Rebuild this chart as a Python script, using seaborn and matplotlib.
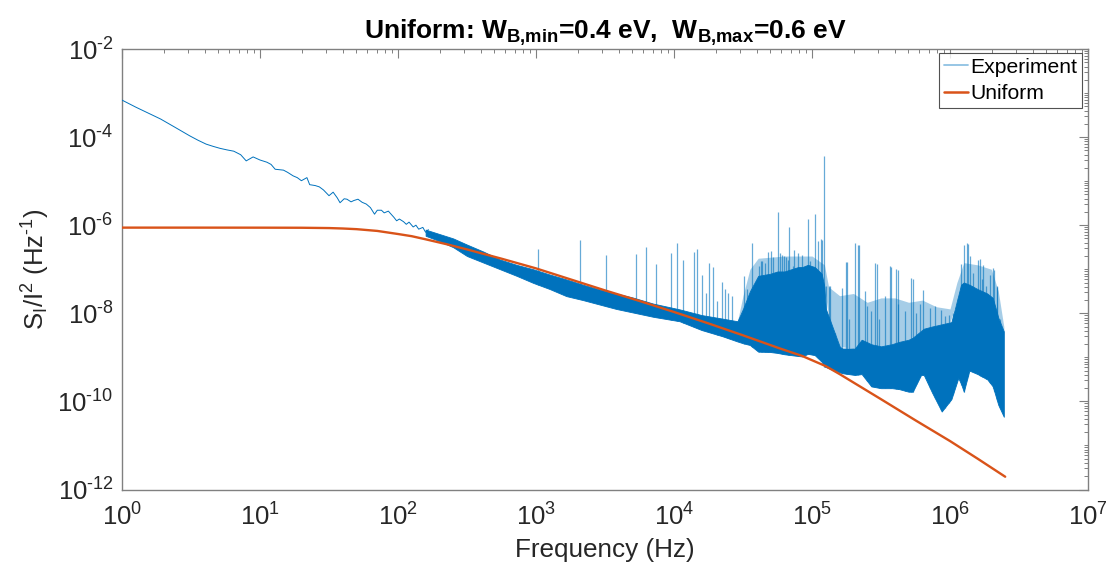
import numpy as np
import pandas as pd
import matplotlib
matplotlib.use("Agg")
import matplotlib.pyplot as plt
import seaborn as sns
from matplotlib.ticker import LogLocator, FixedLocator, FuncFormatter, NullFormatter
from matplotlib.lines import Line2D

# ---------------- data (log10 values) ----------------
# Experiment: smooth low-frequency part (log10 f, log10 S)
exp_low_log_f = [0.00, 0.10, 0.20, 0.28, 0.38, 0.49, 0.55, 0.61, 0.66, 0.71, 0.76, 0.81, 0.86,
                 0.90, 0.95, 1.00, 1.05, 1.08, 1.11, 1.14, 1.17, 1.20, 1.24, 1.27, 1.30, 1.34,
                 1.36, 1.40, 1.43, 1.46, 1.50, 1.53, 1.56, 1.58, 1.61, 1.63, 1.66, 1.68, 1.71,
                 1.74, 1.77, 1.80, 1.83, 1.85, 1.88, 1.90, 1.93, 1.95, 1.97, 1.99, 2.01, 2.04,
                 2.06, 2.08, 2.11, 2.13, 2.15, 2.18, 2.20, 2.22]
exp_low_log_s = [-3.16, -3.32, -3.47, -3.59, -3.77, -3.97, -4.07, -4.16, -4.21, -4.255, -4.29,
                 -4.32, -4.40, -4.54, -4.45, -4.52, -4.57, -4.62, -4.73, -4.74, -4.75, -4.80,
                 -4.88, -4.92, -4.99, -4.92, -5.08, -5.10, -5.13, -5.20, -5.33, -5.25, -5.38,
                 -5.49, -5.40, -5.41, -5.47, -5.44, -5.41, -5.48, -5.52, -5.60, -5.75, -5.66,
                 -5.66, -5.72, -5.68, -5.75, -5.82, -5.90, -5.86, -5.92, -5.98, -5.93, -6.04,
                 -6.00, -6.09, -6.05, -6.16, -6.10]

# Experiment: dense noisy band (log10 f, upper and lower envelope of log10 S)
band_log_f = [2.20, 2.30, 2.40, 2.50, 2.62, 2.74, 2.86, 2.98, 3.10, 3.22, 3.34, 3.46, 3.58, 3.70,
              3.85, 4.04, 4.20, 4.35, 4.46, 4.50, 4.55, 4.61, 4.70, 4.75, 4.80, 4.90, 4.93, 4.97,
              5.02, 5.07, 5.09, 5.10, 5.13, 5.20, 5.22, 5.31, 5.36, 5.43, 5.50, 5.58, 5.63, 5.70,
              5.73, 5.79, 5.81, 5.87, 5.94, 6.01, 6.06, 6.08, 6.10, 6.14, 6.20, 6.27, 6.31, 6.35,
              6.39]
band_hi_log_s = [-6.10, -6.20, -6.30, -6.44, -6.60, -6.78, -6.90, -7.00, -7.12, -7.23, -7.35,
                 -7.46, -7.55, -7.64, -7.78, -7.91, -8.04, -8.12, -8.18, -7.90, -7.50, -7.15,
                 -7.10, -7.05, -7.05, -6.95, -6.95, -6.90, -6.95, -7.10, -7.40, -7.90, -8.15,
                 -8.75, -8.80, -8.80, -8.60, -8.70, -8.75, -8.70, -8.65, -8.60, -8.55, -8.40,
                 -8.35, -8.30, -8.25, -8.20, -7.60, -7.35, -7.30, -7.35, -7.45, -7.55, -7.65,
                 -8.10, -8.41]
band_lo_log_s = [-6.24, -6.36, -6.50, -6.70, -6.85, -7.00, -7.15, -7.31, -7.45, -7.61, -7.70,
                 -7.80, -7.90, -7.98, -8.08, -8.18, -8.38, -8.52, -8.64, -8.68, -8.72, -8.87,
                 -8.88, -8.90, -8.93, -8.97, -8.98, -8.92, -8.95, -9.10, -9.21, -9.22, -9.26,
                 -9.34, -9.36, -9.40, -9.38, -9.66, -9.70, -9.70, -9.72, -9.78, -9.78, -9.40,
                 -9.40, -9.80, -10.23, -9.95, -9.47, -9.60, -9.78, -9.30, -9.38, -9.50, -9.66,
                 -10.08, -10.35]

# Experiment: upper reach of the hairy (less dense) traces above the solid band
haze_log_f = [4.46, 4.50, 4.55, 4.61, 4.80, 5.00, 5.09, 5.12, 5.20, 5.30, 5.40, 5.50, 5.60,
              5.70, 5.80, 5.90, 6.00, 6.05, 6.10, 6.20, 6.30, 6.35, 6.39]
haze_hi_log_s = [-8.18, -7.60, -7.00, -6.75, -6.70, -6.70, -6.90, -7.40, -7.60, -7.55, -7.75,
                 -7.65, -7.65, -7.75, -7.70, -7.85, -7.90, -7.30, -6.85, -6.90, -7.00, -7.50,
                 -8.30]

# Experiment: isolated spectral spikes (log10 f, log10 S at spike top)
spike_log_f = [3.015, 3.32, 3.505, 3.725, 3.80, 3.872, 3.981, 4.024, 4.067, 4.145, 4.169, 4.20,
               4.232, 4.256, 4.28, 4.31, 4.35, 4.37, 4.394, 4.418, 4.51, 4.53, 4.568, 4.616,
               4.629, 4.635, 4.658, 4.68, 4.702, 4.72, 4.75, 4.767, 4.78, 4.798, 4.81, 4.827,
               4.83, 4.859, 4.87, 4.895, 4.93, 4.97, 4.984, 5.02, 5.04, 5.062, 5.07, 5.09,
               5.105, 5.122, 5.13, 5.17, 5.221, 5.243, 5.25, 5.267, 5.315, 5.33, 5.34, 5.383,
               5.40, 5.431, 5.46, 5.47, 5.484, 5.528, 5.564, 5.57, 5.607, 5.62, 5.624, 5.673,
               5.721, 5.73, 5.757, 5.781, 5.805, 5.854, 5.890, 5.933, 5.962, 5.991, 6.023,
               6.059, 6.083, 6.10, 6.124, 6.13, 6.144, 6.168, 6.204, 6.22, 6.233, 6.24, 6.259,
               6.288, 6.313, 6.32, 6.337, 6.34, 6.361]
spike_log_s = [-6.55, -6.33, -6.68, -6.65, -6.49, -6.89, -6.62, -6.40, -6.78, -6.61, -6.53,
               -7.13, -7.53, -6.85, -6.96, -7.72, -7.30, -7.44, -7.53, -7.61, -7.16, -7.45,
               -6.40, -6.93, -6.82, -6.81, -6.85, -6.61, -6.59, -6.72, -5.70, -6.63, -6.68,
               -6.70, -6.72, -6.78, -6.04, -6.93, -6.57, -6.63, -6.68, -5.85, -6.82, -5.74,
               -6.36, -6.32, -6.34, -4.42, -7.38, -7.38, -7.39, -8.45, -7.42, -6.84, -6.83,
               -8.14, -6.40, -6.44, -6.46, -7.50, -7.84, -7.95, -6.85, -6.89, -8.14, -7.61,
               -6.93, -6.95, -7.00, -7.02, -7.80, -7.95, -7.19, -7.21, -7.99, -7.80, -7.46,
               -7.88, -7.84, -7.92, -8.07, -8.03, -7.99, -7.65, -6.89, -6.44, -6.40, -6.43,
               -6.70, -7.08, -6.78, -6.76, -7.23, -6.91, -7.38, -7.12, -6.97, -7.01, -7.38,
               -7.40, -8.14]

# Uniform model curve (log10 f, log10 S)
uni_log_f = [0.0, 0.5, 1.0, 1.3, 1.5, 1.6, 1.7, 1.85, 2.0, 2.1, 2.2, 2.35, 2.5, 2.75, 3.0, 3.25,
             3.5, 3.75, 4.0, 4.25, 4.5, 4.76, 4.93, 5.1, 5.2, 5.3, 5.4, 5.5, 5.75, 6.0, 6.2, 6.4]
uni_log_s = [-6.055, -6.055, -6.056, -6.058, -6.065, -6.075, -6.09, -6.13, -6.20, -6.25, -6.32,
             -6.43, -6.55, -6.76, -6.98, -7.23, -7.48, -7.72, -7.97, -8.23, -8.50, -8.79,
             -8.97, -9.20, -9.38, -9.57, -9.76, -9.95, -10.43, -10.90, -11.30, -11.71]

series_names = ["Experiment", "Uniform"]
x_ticks_exp = list(range(0, 8))
y_ticks_exp = [-12, -10, -8, -6, -4, -2]

# ---------------- styling ----------------
sns.set_style("white")
plt.rcParams["font.family"] = ["Liberation Sans", "DejaVu Sans"]
plt.rcParams["mathtext.fontset"] = "custom"
plt.rcParams["mathtext.rm"] = "Liberation Sans"
plt.rcParams["mathtext.it"] = "Liberation Sans:italic"
plt.rcParams["mathtext.bf"] = "Liberation Sans:bold"
plt.rcParams["mathtext.default"] = "regular"

BLUE = "#0072BD"
ORANGE = "#D95319"
AXC = "#808080"
TXT = "#262626"

fig = plt.figure(figsize=(11.18, 5.72), dpi=100)
ax = fig.add_axes([122 / 1118, (572 - 489.5) / 572, (1088 - 122) / 1118, (489.5 - 49) / 572])
ax.set_xscale("log")
ax.set_yscale("log")

p = lambda v: 10.0 ** np.asarray(v, dtype=float)

# hairy traces (light) above the dense band
haze_base = np.interp(haze_log_f, band_log_f, band_hi_log_s)
ax.fill_between(p(haze_log_f), p(haze_base), p(haze_hi_log_s), color=BLUE, lw=0, alpha=0.35,
                zorder=1.5)
# dense band
ax.fill_between(p(band_log_f), p(band_lo_log_s), p(band_hi_log_s), color=BLUE, lw=0.6,
                edgecolor=BLUE, zorder=2)
# spikes
spike_base = np.interp(spike_log_f, band_log_f, band_lo_log_s)
ax.vlines(p(spike_log_f), p(spike_base), p(spike_log_s), color=BLUE, lw=0.9, alpha=0.6, zorder=2)

# smooth low-frequency experiment trace
sns.lineplot(x=p(exp_low_log_f), y=p(exp_low_log_s), ax=ax, color=BLUE, lw=0.7, sort=False,
             estimator=None, legend=False, zorder=3)
# model
sns.lineplot(x=p(uni_log_f), y=p(uni_log_s), ax=ax, color=ORANGE, lw=1.7, sort=False,
             estimator=None, legend=False, zorder=4)

ax.set_xlim(1, 1e7)
ax.set_ylim(1e-12, 1e-2)


def pow_fmt(v, pos):
    e = int(round(np.log10(v)))
    return r"$10^{\text{%d}}$" % e


ax.xaxis.set_major_locator(FixedLocator(p(x_ticks_exp)))
ax.xaxis.set_minor_locator(LogLocator(base=10, subs=np.arange(2, 10), numticks=100))
ax.yaxis.set_major_locator(FixedLocator(p(y_ticks_exp)))
ax.yaxis.set_minor_locator(LogLocator(base=10, subs=np.arange(1, 10), numticks=100))
ax.xaxis.set_major_formatter(FuncFormatter(pow_fmt))
ax.yaxis.set_major_formatter(FuncFormatter(pow_fmt))
ax.xaxis.set_minor_formatter(NullFormatter())
ax.yaxis.set_minor_formatter(NullFormatter())

ax.tick_params(which="both", direction="in", top=True, right=True, color=AXC, labelcolor=TXT)
ax.tick_params(which="major", length=6.5, width=0.8, labelsize=18.5)
ax.tick_params(which="minor", length=3.2, width=0.7)
ax.tick_params(axis="x", which="major", pad=10)
ax.tick_params(axis="y", which="major", pad=6)
for s in ax.spines.values():
    s.set_color(AXC)
    s.set_linewidth(1.0)

ax.set_xlabel("Frequency (Hz)", fontsize=18.8, color=TXT, labelpad=5)
ax.set_ylabel(r"S$_\mathrm{I}$/I$^2$ (Hz$^{\text{-1}}$)", fontsize=18.5, color=TXT, labelpad=4)
ax.set_title(r"Uniform: W$_{\mathbf{B{,}min}}$=0.4 eV,  W$_{\mathbf{B{,}max}}$=0.6 eV",
             fontsize=19, fontweight="bold", pad=7, color="black")

handles = [Line2D([], [], color="#8FC1E3", lw=1.3), Line2D([], [], color=ORANGE, lw=1.8)]
leg = ax.legend(handles, series_names, loc="upper right", bbox_to_anchor=(1 - 6 / 966, 1 - 4 / 440.5),
                borderaxespad=0, frameon=True, fancybox=False, edgecolor=TXT, fontsize=15.2,
                handlelength=1.15, handletextpad=0.12, borderpad=0.22, labelspacing=0.35)
leg.get_frame().set_linewidth(0.8)
for t in leg.get_texts():
    t.set_color("black")

fig.savefig("out.png", dpi=100)
